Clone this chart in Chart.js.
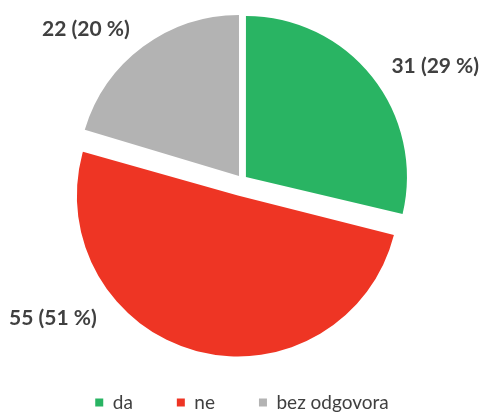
<!DOCTYPE html>
<html>
<head>
<meta charset="utf-8">
<script src="https://cdn.jsdelivr.net/npm/chart.js@4/dist/chart.umd.min.js"></script>
<style>
  html, body { margin: 0; padding: 0; background: #fff; }
  #wrap { width: 480px; height: 413px; }
</style>
</head>
<body>
<div id="wrap"><canvas id="myChart"></canvas></div>
<script>
const labels = ["da", "ne", "bez odgovora"];
const counts = [31, 55, 22];
const colors = ["#29b463", "#ee3524", "#b3b3b3"];
// Chart.js v4 moves an arc by offset / 4
const explode = [20, 64, 20];
// extra turn (degrees) and distance for the value labels
const labelShift = [1, 34, 0];
const labelGap = [22, 26, 22];

const total = counts.reduce((a, b) => a + b, 0);

// how much Chart.js grows an exploded arc when drawing it
function radiusGrow(arc) {
  const off = (arc.options.offset || 0) / 4;
  const circ = arc.endAngle - arc.startAngle;
  return off * (1 - Math.sin(Math.min(Math.PI, circ)));
}

// keep every exploded slice at the same visible radius
const evenRadius = {
  id: "evenRadius",
  afterDatasetUpdate(chart, args) {
    args.meta.data.forEach((arc) => {
      arc.outerRadius -= radiusGrow(arc);
    });
  },
};

const pieLabels = {
  id: "pieLabels",
  afterDatasetsDraw(chart) {
    const ctx = chart.ctx;
    const meta = chart.getDatasetMeta(0);
    ctx.save();
    ctx.font = "bold 21px Lato";
    ctx.fillStyle = "#404040";
    ctx.textBaseline = "middle";
    meta.data.forEach((arc, i) => {
      const { x, y, startAngle, endAngle, outerRadius } = arc.getProps(
        ["x", "y", "startAngle", "endAngle", "outerRadius"], true);
      const mid = (startAngle + endAngle) / 2;
      const off = (arc.options.offset || 0) / 4;
      const cx = x + Math.cos(mid) * off;
      const cy = y + Math.sin(mid) * off;
      const a = mid + labelShift[i] * Math.PI / 180;
      const r = outerRadius + radiusGrow(arc) + labelGap[i];
      const lx = cx + Math.cos(a) * r;
      const ly = cy + Math.sin(a) * r;
      ctx.textAlign = Math.cos(a) >= 0 ? "left" : "right";
      const pct = Math.round(counts[i] / total * 100);
      ctx.fillText(counts[i] + " (" + pct + " %)", lx, ly);
    });
    ctx.restore();
  },
};

const ctx = document.getElementById("myChart").getContext("2d");

const myChart = new Chart(ctx, {
  type: "pie",
  data: {
    labels,
    datasets: [
      {
        data: counts,
        backgroundColor: colors,
        borderWidth: 0,
        offset: explode,
        clip: false,
      },
    ],
  },
  options: {
    responsive: true,
    maintainAspectRatio: false,
    animation: false,
    radius: 161,
    layout: { padding: { left: 4, top: 11, bottom: -9, right: 0 } },
    plugins: {
      tooltip: { enabled: false },
      legend: {
        position: "bottom",
        labels: {
          boxWidth: 8,
          boxHeight: 8,
          padding: 44,
          color: "#404040",
          font: { family: "Lato", size: 19 },
        },
      },
    },
  },
  plugins: [evenRadius, pieLabels],
});
</script>
</body>
</html>
